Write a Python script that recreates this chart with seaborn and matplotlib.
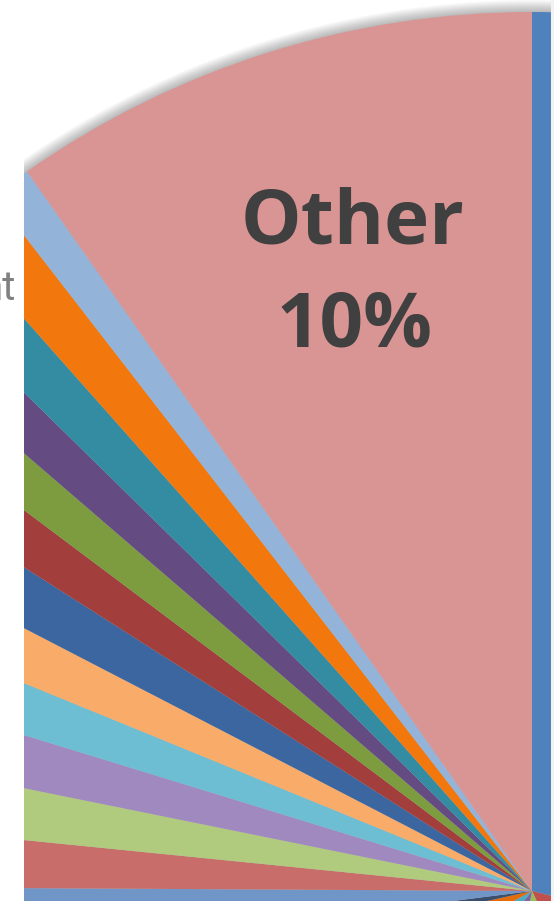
import seaborn as sns
import matplotlib.pyplot as plt
from matplotlib.patches import Circle, Rectangle

# slices in clockwise order from 12 o'clock (only the last quarter is in view)
categories = ['S1', 'S2', 'S3', 'S4', 'S5', 'S6', 'S7', 'S8',
              'S9', 'S10', 'S11', 'S12', 'S13', 'S14', 'S15', 'S16',
              'S17', 'S18', 'S19', 'S20', 'Other']
shares = [29.0, 14.0, 10.0, 8.0, 6.0, 4.5, 1.5, 2.09,
          1.50, 1.59, 1.56, 1.44, 1.42, 1.43, 1.21, 1.08,
          1.03, 1.10, 1.06, 0.75, 9.74]
slice_colors = ['#4F81BD', '#C0504D', '#9BBB59', '#8064A2', '#4BACC6', '#E46C0A', '#3A4F6E', '#7096C8',
                '#C96D6A', '#B0CA7E', '#A089BE', '#6DBED3', '#F9AC6A', '#3B66A0', '#A23E3B', '#7D9C40',
                '#644C82', '#348CA3', '#F2780E', '#94B3D8', '#D99494']
other_label = ['Other', '10%']

sns.set_theme(style='white')
pal = sns.color_palette(slice_colors)

fig = plt.figure(figsize=(5.54, 9.01), dpi=100)
ax = fig.add_axes([0, 0, 1, 1])

cx, cy, R = 532, 10, 879

# soft shadow around the rim
for i in range(1, 13):
    ax.add_patch(Circle((cx, cy), R + i, facecolor='#000000', alpha=0.022, lw=0, zorder=0))

wedges, _ = ax.pie(shares, colors=pal, startangle=90, counterclock=False,
                   radius=R, center=(cx, cy), wedgeprops=dict(linewidth=0))
for w in wedges:
    w.set_zorder(1)

ax.set_xlim(0, 554)
ax.set_ylim(0, 901)
ax.set_aspect('auto')
ax.axis('off')

# plot area is clipped on the left and right
ax.add_patch(Rectangle((0, 0), 24, 901, facecolor='white', lw=0, zorder=3))
ax.add_patch(Rectangle((551, 0), 3, 901, facecolor='#F2F2F2', lw=0, zorder=3))

ax.text(353, 901 - 224, other_label[0], ha='center', va='center', fontsize=55,
        fontweight='bold', family='Open Sans', color='#404040', zorder=4)
ax.text(355, 901 - 327, other_label[1], ha='center', va='center', fontsize=55,
        fontweight='bold', family='Open Sans', color='#404040', zorder=4)

# cut-off outside label
ax.text(16, 901 - 300, 'nt', ha='right', va='baseline', fontsize=29,
        family='Roboto', color='#808080', zorder=4)

fig.savefig('out.png', dpi=100)
